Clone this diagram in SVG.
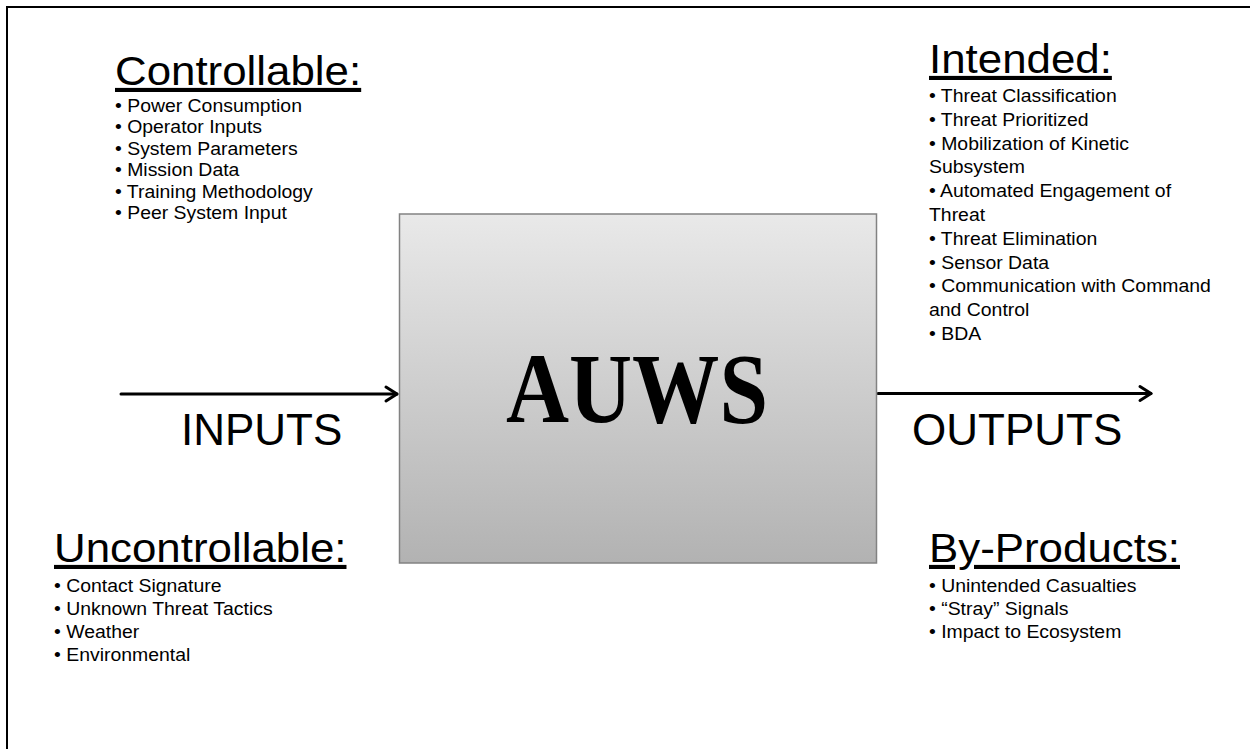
<svg xmlns="http://www.w3.org/2000/svg" width="1250" height="749" viewBox="0 0 1250 749">
<style>
.h{font-family:"Liberation Sans",Arial,sans-serif;font-size:41px;fill:#000;text-decoration:underline}
.li{font-family:"Liberation Sans",Arial,sans-serif;font-size:18.5px;fill:#000}
.big{font-family:"Liberation Sans",Arial,sans-serif;font-size:44px;fill:#000}
.conn{stroke:#000;stroke-width:3;fill:none;stroke-linecap:round;stroke-linejoin:round}
</style>
<defs>
<linearGradient id="boxg" x1="0" y1="0" x2="0" y2="1">
<stop offset="0" stop-color="#e9e9e9"/>
<stop offset="1" stop-color="#b2b2b2"/>
</linearGradient>
</defs>
<rect width="1250" height="749" fill="#fff"/>
<path d="M7,760 V7 H1260" fill="none" stroke="#000" stroke-width="2"/>

<g id="connectors">
<line class="conn" x1="121" y1="394" x2="397" y2="394"/>
<polyline class="conn" points="386,387 397,394 386,401"/>
<line class="conn" x1="878" y1="393.5" x2="1151" y2="393.5"/>
<polyline class="conn" points="1140,386.5 1151,393.5 1140,400.5"/>
</g>

<g id="auws">
<rect x="399.5" y="214" width="477" height="349" fill="url(#boxg)" stroke="#828282" stroke-width="1.5"/>
<text x="637" y="422" text-anchor="middle" font-family="'Liberation Serif','DejaVu Serif',serif" font-weight="bold" font-size="100" textLength="262" lengthAdjust="spacingAndGlyphs">AUWS</text>
</g>

<g id="inputs-label"><text class="big" x="181" y="445">INPUTS</text></g>
<g id="outputs-label"><text class="big" x="912" y="445">OUTPUTS</text></g>

<g id="controllable">
<g transform="translate(115,85) scale(1.07,1)"><text class="h" x="0" y="0">Controllable:</text></g>
<g transform="translate(115,0) scale(1.05,1)">
<text class="li" x="0" y="112">• Power Consumption</text>
<text class="li" x="0" y="133.5">• Operator Inputs</text>
<text class="li" x="0" y="155">• System Parameters</text>
<text class="li" x="0" y="176.5">• Mission Data</text>
<text class="li" x="0" y="198">• Training Methodology</text>
<text class="li" x="0" y="219.5">• Peer System Input</text>
</g>
</g>

<g id="intended">
<g transform="translate(929,73) scale(1.07,1)"><text class="h" x="0" y="0">Intended:</text></g>
<g transform="translate(929,0) scale(1.05,1)">
<text class="li" x="0" y="102">• Threat Classification</text>
<text class="li" x="0" y="125.8">• Threat Prioritized</text>
<text class="li" x="0" y="149.6">• Mobilization of Kinetic</text>
<text class="li" x="0" y="173.4">Subsystem</text>
<text class="li" x="0" y="197.2">• Automated Engagement of</text>
<text class="li" x="0" y="221">Threat</text>
<text class="li" x="0" y="244.8">• Threat Elimination</text>
<text class="li" x="0" y="268.6">• Sensor Data</text>
<text class="li" x="0" y="292.4">• Communication with Command</text>
<text class="li" x="0" y="316.2">and Control</text>
<text class="li" x="0" y="340">• BDA</text>
</g>
</g>

<g id="uncontrollable">
<g transform="translate(54,562) scale(1.07,1)"><text class="h" x="0" y="0">Uncontrollable:</text></g>
<g transform="translate(54,0) scale(1.05,1)">
<text class="li" x="0" y="592">• Contact Signature</text>
<text class="li" x="0" y="615">• Unknown Threat Tactics</text>
<text class="li" x="0" y="638">• Weather</text>
<text class="li" x="0" y="661">• Environmental</text>
</g>
</g>

<g id="byproducts">
<g transform="translate(929,562) scale(1.07,1)"><text class="h" x="0" y="0">By-Products:</text></g>
<g transform="translate(929,0) scale(1.05,1)">
<text class="li" x="0" y="592">• Unintended Casualties</text>
<text class="li" x="0" y="615">• “Stray” Signals</text>
<text class="li" x="0" y="638">• Impact to Ecosystem</text>
</g>
</g>
</svg>
